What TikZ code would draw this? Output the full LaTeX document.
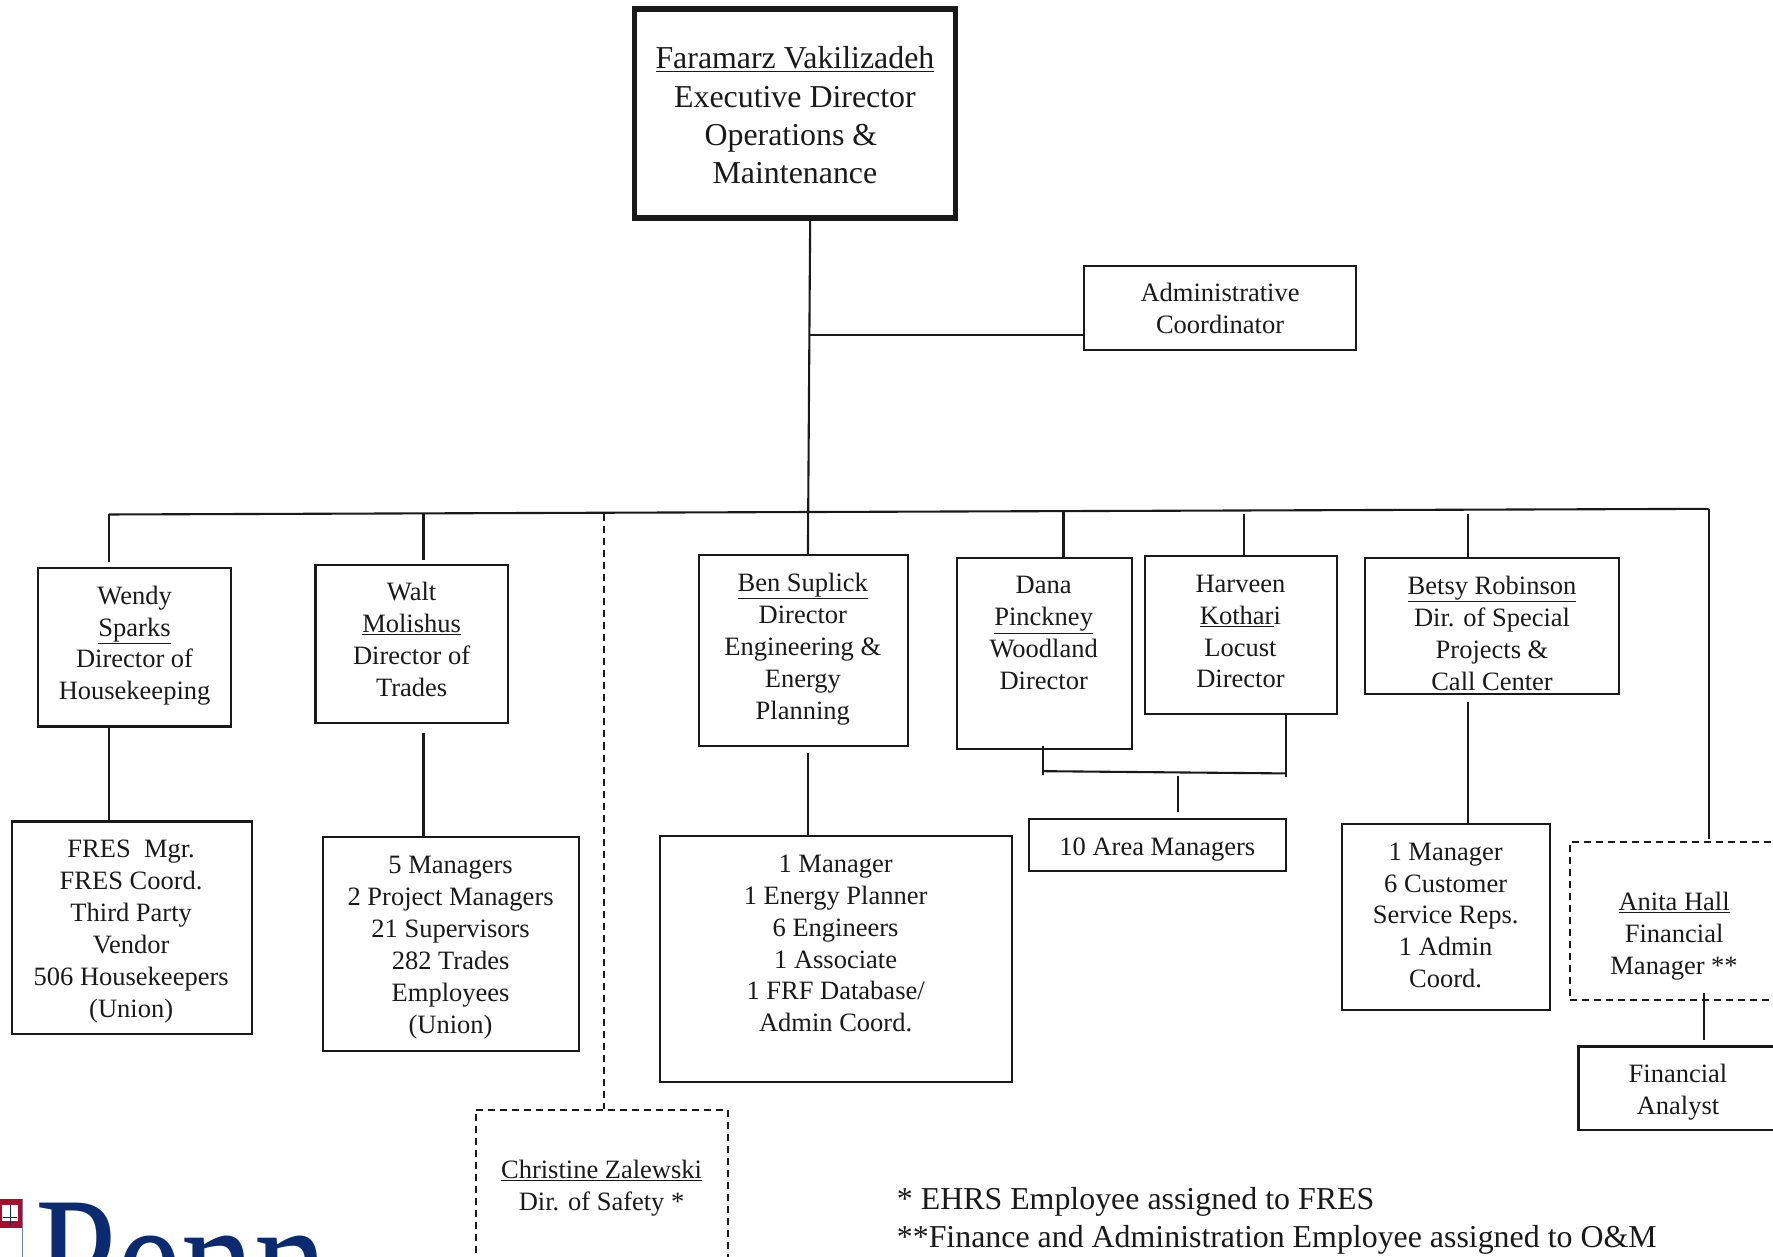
\documentclass[tikz,border=0pt]{standalone}
\usepackage{fontspec}
\setmainfont{Liberation Serif}
\definecolor{pennblue}{HTML}{0B2A6F}
\definecolor{pennred}{HTML}{A50F2D}
\tikzset{
  orgline/.style={line width=2.1bp,black!90},
  orgbox/.style={draw=black!90,line width=2.1bp,rectangle,inner sep=0pt},
  dashbox/.style={orgbox,dash pattern=on 7bp off 5bp},
  dashline/.style={orgline,dash pattern=on 7bp off 5bp},
  thickbox/.style={orgbox,line width=5.5bp},
  orgtext/.style={inner sep=0pt,align=center,font=\fontsize{26.6}{32}\selectfont,text=black!90},
  bigtext/.style={inner sep=0pt,align=center,font=\fontsize{32}{38.4}\selectfont,text=black!90},
  foot/.style={inner sep=0pt,anchor=base west,font=\fontsize{32}{38}\selectfont,text=black!90},
}
% name, x1,y1,x2,y2 (reference coordinates), text centre, text
\newcommand{\orgnode}[9][orgbox]{%
  \pgfmathsetmacro{\bw}{(#5-#3)*1.1307}%
  \pgfmathsetmacro{\bh}{(#6-#4)*1.1307}%
  \node[#1,minimum width=\bw bp,minimum height=\bh bp] (#2) at ({(#3+#5)/2},{(#4+#6)/2}) {};%
  \node[orgtext] (#2-text) at (#7,#8) {#9};%
}
\begin{document}
\begin{tikzpicture}[x=1.1307bp,y=-1.1307bp]
\useasboundingbox (0,0) rectangle (1568,1110.8);

% top box
\node[thickbox,minimum width=321bp,minimum height=209bp] (top) at (703,100.5) {};
\node[bigtext] (top-text) at (703,102) {\underline{Faramarz Vakilizadeh}\\Executive Director\\Operations \&\rule{8bp}{0pt}\\Maintenance};

\orgnode{admin}{958.5}{235.5}{1199}{309.5}{1079}{273}{Administrative\\Coordinator}
\orgnode{wendy}{34}{502.5}{204}{642.5}{119}{571}{Wendy\\\underline{Sparks}\\Director of\\Housekeeping}
\orgnode{walt}{279}{499.5}{449}{639.5}{364}{565.5}{Walt\\\underline{Molishus}\\Director of\\Trades}
\orgnode{ben}{618.5}{491}{803}{659.5}{710}{574}{\underline{Ben Suplick}\\Director\\Engineering \&\\Energy\\Planning}
\orgnode{dana}{846}{493.5}{1001}{662}{923}{560}{Dana\\\underline{Pinckney}\\Woodland\\Director}
\orgnode{harveen}{1012.5}{491.5}{1182}{631.5}{1097}{558.5}{Harveen\\\underline{Kothar}i\\Locust\\Director}
\orgnode{betsy}{1207}{493.5}{1432}{613.5}{1319.5}{560}{\underline{Betsy Robinson}\\Dir. of Special\\Projects \&\\Call Center}
\orgnode{fres}{10.5}{726.5}{223}{914.5}{116}{824}{FRES~~Mgr.\\FRES Coord.\\Third Party\\Vendor\\506 Housekeepers\\(Union)}
\orgnode{trades}{285.5}{740.5}{512}{929.5}{398.5}{838}{5 Managers\\2 Project Managers\\21 Supervisors\\282 Trades\\Employees\\(Union)}
\orgnode{eng}{583.5}{739.5}{895}{956.5}{739}{834.5}{1 Manager\\1 Energy Planner\\6 Engineers\\1 Associate\\1 FRF Database/\\Admin Coord.}
\orgnode{area}{910}{724.5}{1137}{770}{1023.5}{751}{10 Area Managers}
\orgnode{service}{1187}{728.5}{1371}{893.5}{1278.5}{809.5}{1 Manager\\6 Customer\\Service Reps.\\1 Admin\\Coord.}
\orgnode[dashbox]{anita}{1388.5}{745}{1620}{884.5}{1480.5}{828}{\underline{Anita Hall}\\Financial\\Manager **}
\orgnode{analyst}{1396}{925.5}{1620}{999.5}{1484}{965.5}{Financial\\Analyst}
\orgnode[dashbox]{christine}{421}{981.5}{644}{1200}{532}{1051}{\underline{Christine Zalewski}\\Dir. of Safety *}

% junctions
\coordinate (stemT) at (716.5,193);
\coordinate (stemA) at (716,296);
\coordinate (busL) at (96,455);
\coordinate (busR) at (1511,450);
\coordinate (busWalt) at (374.5,454);
\coordinate (gapWalt) at (374.5,495);
\coordinate (busSafety) at (534,455);
\coordinate (busBen) at (714.5,490);
\coordinate (busDana) at (940.5,451);
\coordinate (busHar) at (1100.5,455);
\coordinate (busBetsy) at (1298.5,455);
\coordinate (wendyIn) at (96,497);
\coordinate (anitaIn) at (1511,742);
\coordinate (waltOut) at (374.5,648);
\coordinate (benOut) at (714.5,666);
\coordinate (betsyOut) at (1298.5,621);
\coordinate (danaOut) at (922,660);
\coordinate (danaEnd) at (922,685);
\coordinate (harOut) at (1137,631);
\coordinate (harEnd) at (1137,687);
\coordinate (joinL) at (922,682);
\coordinate (joinR) at (1137,684);
\coordinate (areaTop) at (1041.5,686);
\coordinate (areaIn) at (1041.5,718);
\coordinate (finTop) at (1507,878);
\coordinate (finIn) at (1507,920);

% connectors
\draw[orgline] (stemT) -- (busBen);
\draw[orgline] (stemA) -- (admin.west |- stemA);
\draw[orgline] (busL) -- (busR);
\draw[orgline] (busL) -- (wendyIn);
\draw[orgline] (busWalt) -- (gapWalt);
\draw[dashline] (busSafety) -- (christine.north -| busSafety);
\draw[orgline] (busDana) -- (dana.north -| busDana);
\draw[orgline] (busHar) -- (harveen.north -| busHar);
\draw[orgline] (busBetsy) -- (betsy.north -| busBetsy);
\draw[orgline] (busR) -- (anitaIn);
\draw[orgline] (wendy.south -| busL) -- (fres.north -| busL);
\draw[orgline] (waltOut) -- (trades.north -| waltOut);
\draw[orgline] (benOut) -- (eng.north -| benOut);
\draw[orgline] (betsyOut) -- (service.north -| betsyOut);
\draw[orgline] (danaOut) -- (danaEnd);
\draw[orgline] (harOut) -- (harEnd);
\draw[orgline] (joinL) -- (joinR);
\draw[orgline] (areaTop) -- (areaIn);
\draw[orgline] (finTop) -- (finIn);

% footnotes
\node[foot] (noteA) at (793,1069.5) {* EHRS Employee assigned to FRES};
\node[foot] (noteB) at (793,1103.5) {**Finance and Administration Employee assigned to O\&M};

% logo
\fill[pennred] (-2,1060) rectangle (19.5,1086);
\fill[white] (2,1066) rectangle (16,1080);
\draw[pennblue,line width=0.8bp] (9,1066) -- (9,1083) (3,1077) -- (15,1077);
\draw[pennblue!60,line width=1bp] (19.5,1060) -- (19.5,1120);
\node[inner sep=0pt,anchor=base west,text=pennblue,xscale=0.98,yscale=1.2,font=\fontsize{150}{150}\selectfont] (penn) at (31,1168) {Penn};
\end{tikzpicture}
\end{document}
